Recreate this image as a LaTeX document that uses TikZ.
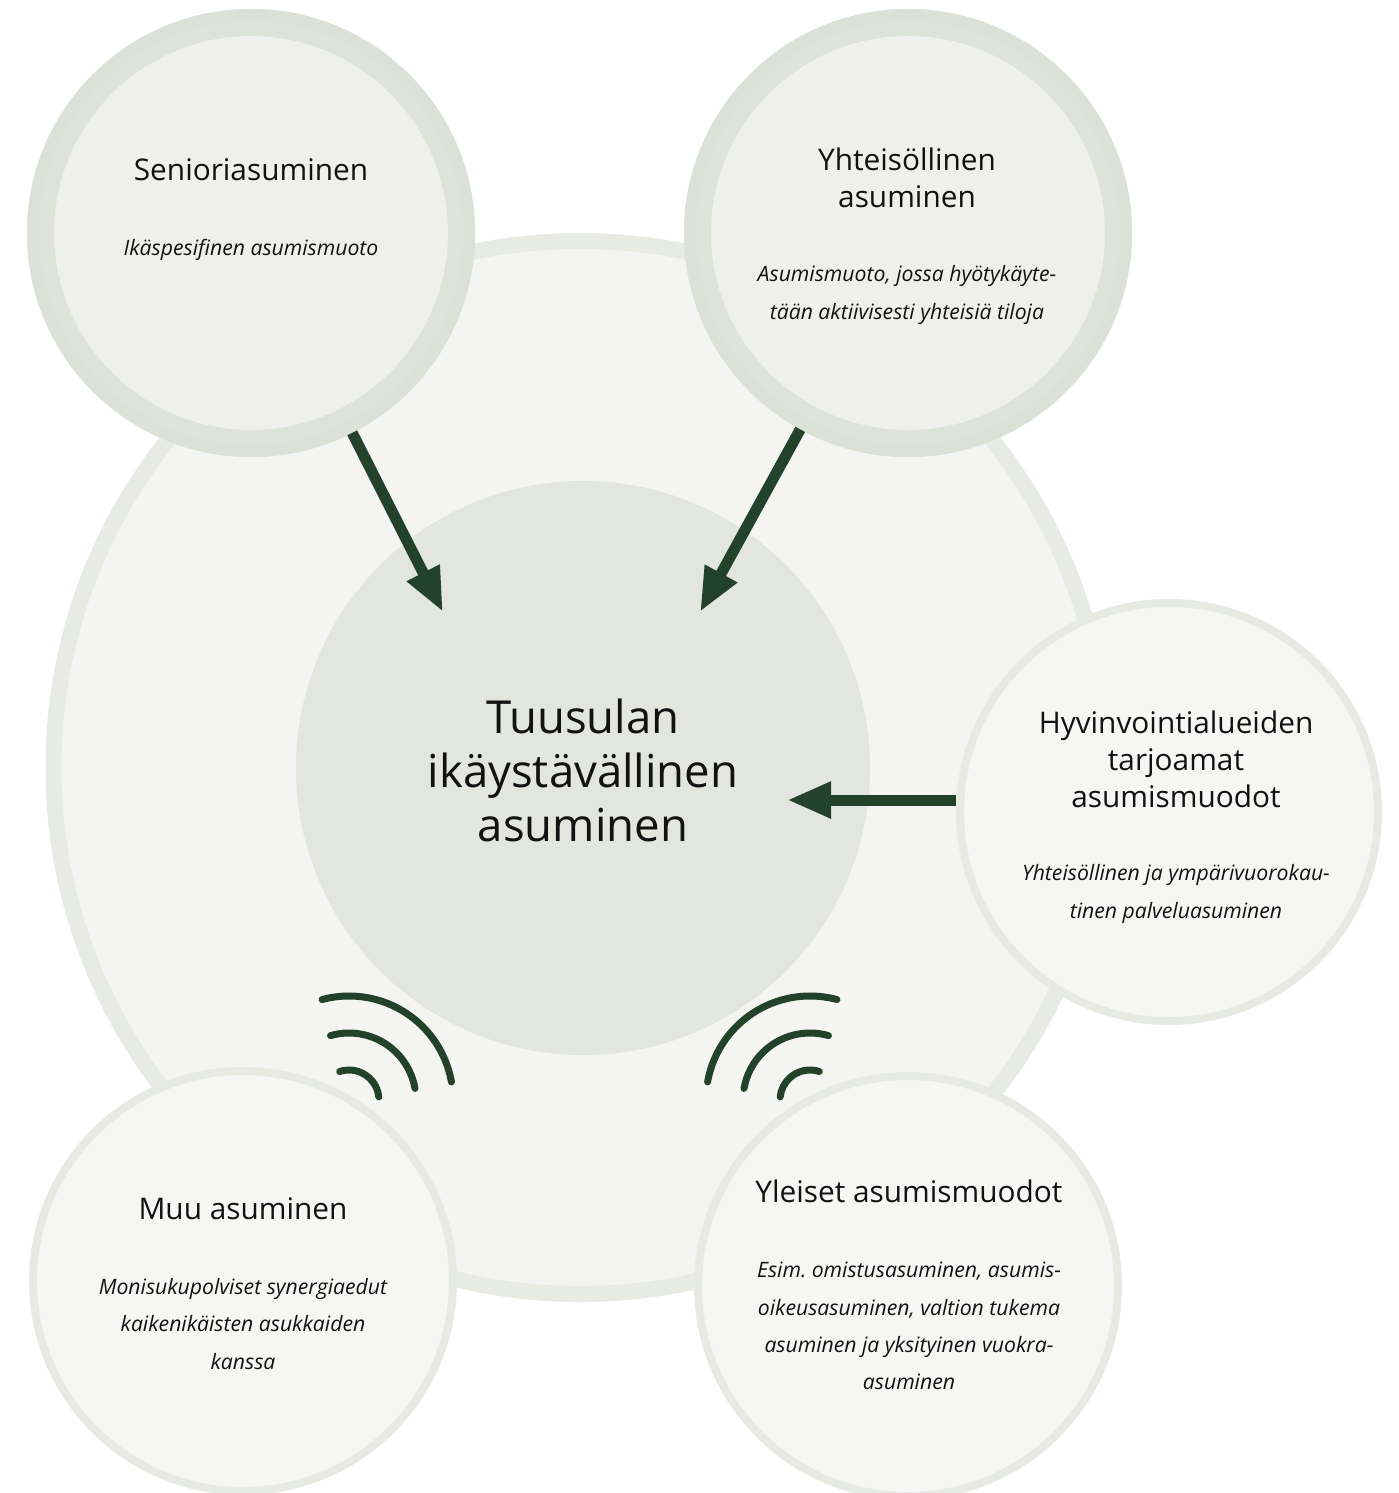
\documentclass[tikz,border=0pt]{standalone}
\usepackage{fontspec}
\setmainfont{Open Sans}
\usetikzlibrary{arrows.meta}
\definecolor{bgring}{HTML}{E8EBE4}
\definecolor{bgfill}{HTML}{F4F4F2}
\definecolor{corefill}{HTML}{E3E6DE}
\definecolor{topring}{HTML}{DEE3DA}
\definecolor{topringout}{HTML}{DBE1D6}
\definecolor{topfill}{HTML}{EFF0EC}
\definecolor{lowring}{HTML}{E7EAE3}
\definecolor{lowfill}{HTML}{F6F6F4}
\definecolor{dgreen}{HTML}{22432A}
\definecolor{ink}{HTML}{121212}
\begin{document}
\frenchspacing
\begin{tikzpicture}[x=1pt,y=-1pt,
  topcirc/.style={circle, inner sep=0pt, minimum size=421pt, draw=topring, line width=27pt, fill=topfill},
  lowcirc/.style={circle, inner sep=0pt, minimum size=420pt, draw=lowring, line width=8pt, fill=lowfill},
  ttl/.style={align=center, text=ink, font=\fontsize{29.8}{37}\selectfont, inner sep=0pt},
  sub/.style={align=center, text=ink, font=\fontsize{21.2}{37.3}\selectfont\itshape, inner sep=0pt},
  arr/.style={draw=dgreen, line width=11pt, -{Triangle[length=44pt,width=34pt]}},
  sig/.style={draw=dgreen, line width=7pt, line cap=round}]
\useasboundingbox (0,0) rectangle (1399,1493);
\fill[white] (0,0) rectangle (1399,1493);
% large background circle
\node[circle, inner sep=0pt, minimum size=1053pt, draw=bgring, line width=16pt, fill=bgfill] (outer) at (580,767.5) {};
% core
\node[circle, inner sep=0pt, minimum size=574pt, fill=corefill] (core) at (583,768) {};
\node[align=center, text=ink, font=\fontsize{45.5}{54}\selectfont, inner sep=0pt] (coretxt) at (583,770) {Tuusulan\\ikäystävällinen\\asuminen};
% tips
\coordinate (tip1) at (443,612);
\coordinate (tip2) at (700,612);
\coordinate (tip3) at (787,800);
% top circles
\node[topcirc] (senior) at (251,233) {};
\draw[topringout, line width=12pt] (senior.center) circle[radius=218pt];
\node[topcirc] (yht) at (908,233) {};
\draw[topringout, line width=12pt] (yht.center) circle[radius=218pt];
% lower circles
\node[lowcirc, minimum size=418pt] (hyv) at (1169,812) {};
\node[lowcirc] (muu) at (243,1281) {};
\node[lowcirc] (yle) at (908,1286) {};
% arrows
\draw[arr] (senior) -- (tip1);
\draw[arr] (yht) -- (tip2);
\draw[arr] (tip3 -| hyv.west) -- (tip3);
% signal arcs
\coordinate (sigL) at (349,1100);
\coordinate (sigR) at (810,1100);
\draw[sig] (sigL) ++(-105:104) arc[start angle=-105, end angle=-10, radius=104];
\draw[sig] (sigL) ++(-106:67) arc[start angle=-106, end angle=-10, radius=67];
\draw[sig] (sigL) ++(-108:30) arc[start angle=-108, end angle=-6, radius=30];
\draw[sig] (sigR) ++(-75:104) arc[start angle=-75, end angle=-170, radius=104];
\draw[sig] (sigR) ++(-74:67) arc[start angle=-74, end angle=-170, radius=67];
\draw[sig] (sigR) ++(-72:30) arc[start angle=-72, end angle=-174, radius=30];
% texts
\node[ttl] (t1) at (251,170) {Senioriasuminen};
\node[sub] (s1) at (251,250) {Ikäspesifinen asumismuoto};
\node[ttl] (t2) at (907,178) {Yhteisöllinen\\asuminen};
\node[sub] (s2) at (907,295) {Asumismuoto, jossa hyötykäyte-\\tään aktiivisesti yhteisiä tiloja};
\node[ttl] (t3) at (1176,759) {Hyvinvointialueiden\\tarjoamat\\asumismuodot};
\node[sub] (s3) at (1176,894) {Yhteisöllinen ja ympärivuorokau-\\tinen palveluasuminen};
\node[ttl] (t4) at (243,1209) {Muu asuminen};
\node[sub] (s4) at (243,1324) {Monisukupolviset synergiaedut\\kaikenikäisten asukkaiden\\kanssa};
\node[ttl] (t5) at (909,1191) {Yleiset asumismuodot};
\node[sub] (s5) at (909,1326) {Esim. omistusasuminen, asumis-\\oikeusasuminen, valtion tukema\\asuminen ja yksityinen vuokra-\\asuminen};
\end{tikzpicture}
\end{document}
